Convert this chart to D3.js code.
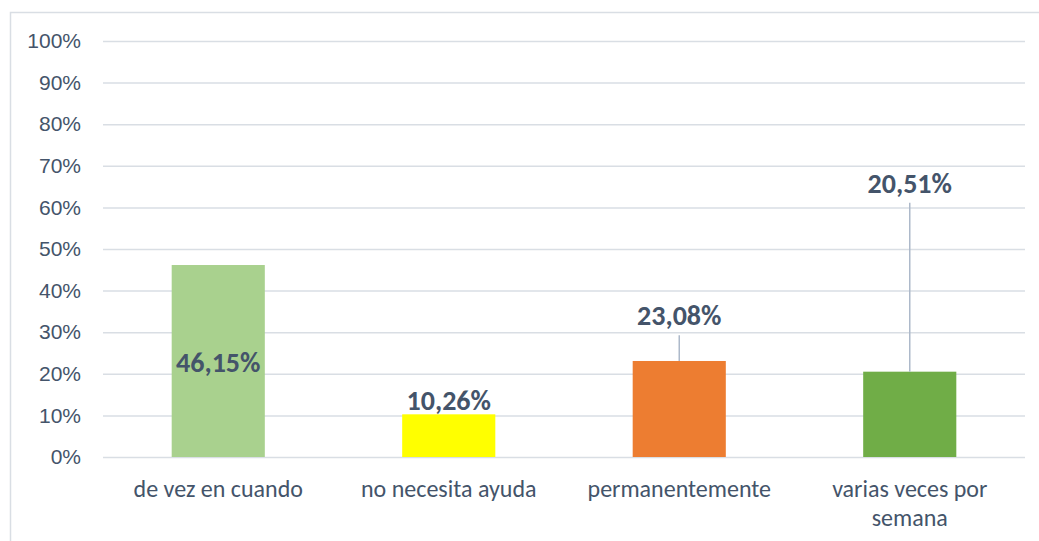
<!DOCTYPE html>
<html><head><meta charset="utf-8">
<script src="https://cdn.jsdelivr.net/npm/d3@7"></script>
<style>
body{margin:0;background:#fff;}
svg{display:block;font-family:Calibri,Carlito,Lato,"Open Sans",sans-serif;}
</style></head>
<body><svg id="c" width="1039" height="541"></svg>
<script>
const categories = ["de vez en cuando", "no necesita ayuda", "permanentemente", "varias veces por semana"];
const values = [46.15, 10.26, 23.08, 20.51];
const valueLabels = ["46,15%", "10,26%", "23,08%", "20,51%"];
const colors = ["#a9d18e", "#ffff00", "#ed7d31", "#70ad47"];
const ticks = [0, 10, 20, 30, 40, 50, 60, 70, 80, 90, 100];
// label placement (in value units) as in the original chart
const labelAt = [22.8, 13.7, 34.1, 65.9];

const svg = d3.select("#c");
const W = 1039, H = 541;
const m = {left: 103, right: 14, top: 41, bottom: 84};

svg.append("rect").attr("x", 10.5).attr("y", 12.5).attr("width", 1040).attr("height", 540)
  .attr("fill", "none").attr("stroke", "#d9dee4").attr("stroke-width", 1.5);

const x = d3.scaleBand().domain(categories).range([m.left, W - m.right]).paddingInner(0.596).paddingOuter(0.298);
const y = d3.scaleLinear().domain([0, 100]).range([H - m.bottom, m.top]);

const yAxis = svg.append("g").attr("transform", `translate(${m.left},0)`)
  .call(d3.axisLeft(y).tickValues(ticks).tickFormat(d => d + "%").tickSize(-(W - m.right - m.left)).tickPadding(22));
yAxis.select(".domain").remove();
yAxis.selectAll(".tick line").attr("stroke", "#d9dee4").attr("stroke-width", 1.5);
yAxis.selectAll(".tick text").attr("fill", "#44546a").attr("font-size", 21).attr("font-family", "inherit");

svg.append("g").selectAll("rect").data(values).join("rect")
  .attr("x", (d, i) => x(categories[i]))
  .attr("y", d => y(d))
  .attr("width", x.bandwidth())
  .attr("height", d => y(0) - y(d))
  .attr("fill", (d, i) => colors[i]);

// leader lines
values.forEach((v, i) => {
  const cx = x(categories[i]) + x.bandwidth() / 2;
  const ly = y(labelAt[i]) + 20;
  if (ly < y(v) - 4) {
    svg.append("line").attr("x1", cx).attr("x2", cx).attr("y1", ly).attr("y2", y(v))
      .attr("stroke", "#adb9ca").attr("stroke-width", 1.5);
  }
});

svg.append("g").selectAll("text").data(valueLabels).join("text")
  .attr("x", (d, i) => x(categories[i]) + x.bandwidth() / 2)
  .attr("y", (d, i) => y(labelAt[i]))
  .attr("dy", "0.35em")
  .attr("text-anchor", "middle")
  .attr("font-size", 28).attr("font-weight", "bold").attr("fill", "#44546a")
  .text(d => d);

// category labels
const catLines = [["de vez en cuando"], ["no necesita ayuda"], ["permanentemente"], ["varias veces por", "semana"]];
catLines.forEach((lines, i) => {
  const t = svg.append("text").attr("x", x(categories[i]) + x.bandwidth() / 2).attr("y", 497)
    .attr("text-anchor", "middle").attr("font-size", 24).attr("fill", "#44546a");
  lines.forEach((l, j) => t.append("tspan").attr("x", x(categories[i]) + x.bandwidth() / 2).attr("dy", j ? 29 : 0).text(l));
});
</script></body></html>
